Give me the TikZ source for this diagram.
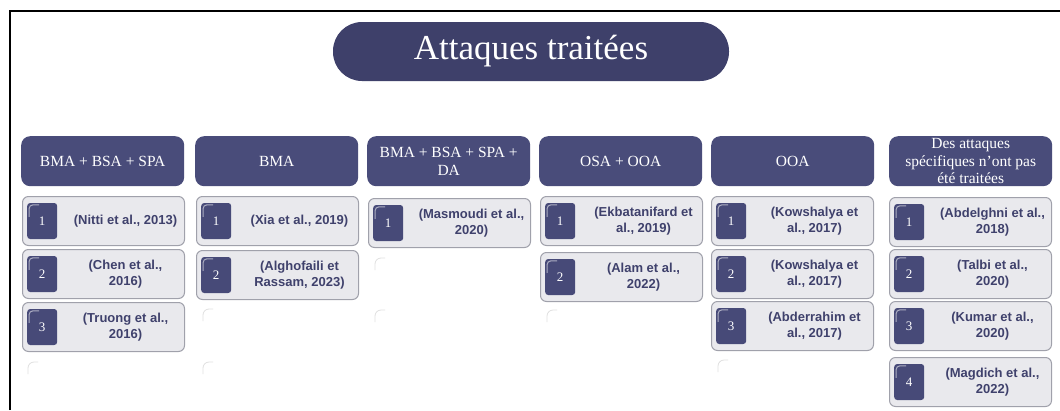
\documentclass[tikz,border=0pt]{standalone}
\usepackage{fontspec}
\setmainfont{Liberation Serif}
\newfontfamily\citefam{Liberation Sans}
\usetikzlibrary{calc}

\definecolor{titlecol}{HTML}{3E406A}
\definecolor{hdrcol}{HTML}{494C7A}
\definecolor{badgecol}{HTML}{474A78}
\definecolor{itemfill}{HTML}{E9E9ED}
\definecolor{itemline}{HTML}{A0A1AB}
\definecolor{citecol}{HTML}{3F416C}

\tikzset{
  frameline/.style={line width=2pt, black},
  titlebox/.style={fill=titlecol, rounded corners=29pt, minimum width=396pt,
    minimum height=59pt, inner sep=0pt, text=white, font=\fontsize{35}{40}\selectfont},
  hdr/.style={fill=hdrcol, rounded corners=9pt, minimum width=163pt,
    minimum height=50pt, inner sep=0pt, text=white, align=center,
    font=\fontsize{15.5}{17.5}\selectfont},
  itembox/.style={fill=itemfill, draw=itemline, line width=1pt,
    rounded corners=6pt, minimum width=162pt, minimum height=49pt, inner sep=0pt},
  badge/.style={fill=badgecol, rounded corners=3pt, minimum width=30pt,
    minimum height=36pt, inner sep=0pt, text=white,
    font=\fontsize{13}{15}\selectfont},
  gloss/.style={draw=white, line width=1pt, opacity=0.55},
  cite/.style={text=citecol, align=center, inner sep=0pt,
    font=\citefam\bfseries\fontsize{13}{16.7}\selectfont},
  ghost/.style={draw=black!12, line width=0.8pt}
}

% one numbered reference: name, left x, top y, number, text
\newcommand{\refentry}[5]{%
  \node[itembox, anchor=north west] (#1) at (#2,#3) {};
  \node[badge, anchor=west] (#1b) at ([xshift=5pt]#1.west) {#4};
  \draw[gloss] ([xshift=2pt,yshift=-14pt]#1b.north west) --
    ([xshift=2pt,yshift=-6pt]#1b.north west) arc (180:90:4pt) --
    ([xshift=12pt,yshift=-2pt]#1b.north west);
  \node[cite] (#1t) at ([xshift=103.5pt]#1.west) {#5};
}
% faint corner of an empty slot
\newcommand{\emptyslot}[2]{%
  \draw[ghost] (#1,#2+12) -- (#1,#2+6) arc (180:90:6pt) -- (#1+10,#2);
}

\begin{document}
\begin{tikzpicture}[x=1pt, y=-1pt]
  \useasboundingbox (0,0) rectangle (1060,410);
  \fill[white] (0,0) rectangle (1060,410);

  % frame
  \draw[frameline] (10,410) -- (10,11) -- (1060,11);

  % title
  \node[titlebox] (title) at (531,51.5) {Attaques traitées};

  % column headers
  \node[hdr, anchor=north west] (h1) at (21,136)  {BMA + BSA + SPA};
  \node[hdr, anchor=north west] (h2) at (195,136) {BMA};
  \node[hdr, anchor=north west] (h3) at (367,136) {BMA + BSA + SPA +\\DA};
  \node[hdr, anchor=north west] (h4) at (539,136) {OSA + OOA};
  \node[hdr, anchor=north west] (h5) at (711,136) {OOA};
  \node[hdr, anchor=north west] (h6) at (889,136) {Des attaques\\spécifiques n'ont pas\\été traitées};

  % column 1
  \refentry{a1}{22}{196}{1}{(Nitti et al., 2013)}
  \refentry{a2}{22}{249}{2}{(Chen et al.,\\2016)}
  \refentry{a3}{22}{302}{3}{(Truong et al.,\\2016)}
  \emptyslot{28}{362}

  % column 2
  \refentry{b1}{196}{196}{1}{(Xia et al., 2019)}
  \refentry{b2}{196}{250}{2}{(Alghofaili et\\Rassam, 2023)}
  \emptyslot{203}{309}
  \emptyslot{203}{362}

  % column 3
  \refentry{c1}{368}{198}{1}{(Masmoudi et al.,\\2020)}
  \emptyslot{375}{258}
  \emptyslot{375}{310}

  % column 4
  \refentry{d1}{540}{196}{1}{(Ekbatanifard et\\al., 2019)}
  \refentry{d2}{540}{252}{2}{(Alam et al.,\\2022)}
  \emptyslot{547}{310}

  % column 5
  \refentry{e1}{711}{196}{1}{(Kowshalya et\\al., 2017)}
  \refentry{e2}{711}{249}{2}{(Kowshalya et\\al., 2017)}
  \refentry{e3}{711}{301}{3}{(Abderrahim et\\al., 2017)}
  \emptyslot{718}{360}

  % column 6
  \refentry{f1}{889}{197}{1}{(Abdelghni et al.,\\2018)}
  \refentry{f2}{889}{249}{2}{(Talbi et al.,\\2020)}
  \refentry{f3}{889}{301}{3}{(Kumar et al.,\\2020)}
  \refentry{f4}{889}{357}{4}{(Magdich et al.,\\2022)}
\end{tikzpicture}
\end{document}
